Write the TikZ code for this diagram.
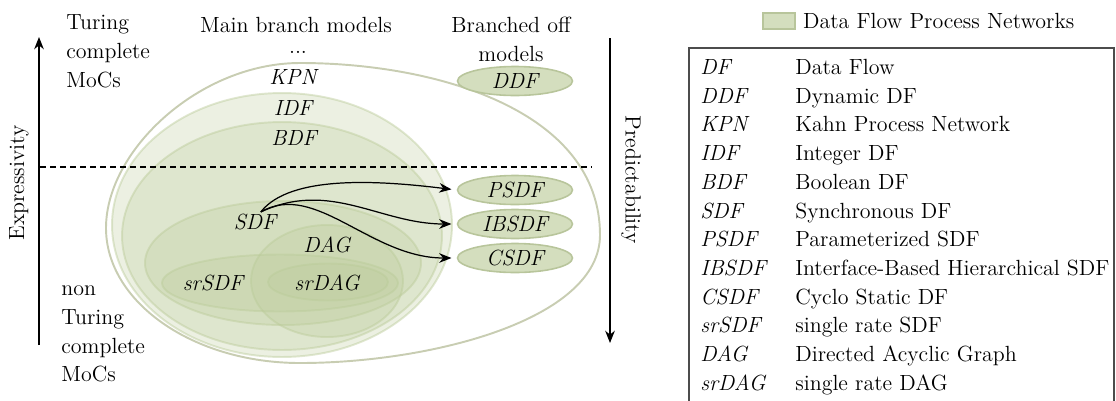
\documentclass[tikz,border=0pt]{standalone}
\usepackage{fontspec}
\usepackage{xcolor}
\usepackage{tikz}
\usetikzlibrary{shapes.geometric, arrows.meta, positioning}

\definecolor{dfgreen}{RGB}{186,202,152}
\definecolor{dffill}{RGB}{212,222,190}
\definecolor{dfedge}{RGB}{184,197,155}
\definecolor{eggline}{RGB}{200,205,178}

\begin{document}
\begin{tikzpicture}[x=0.02cm, y=-0.02cm,
    font=\fontsize{12.5}{16.4}\selectfont,
    region/.style={ellipse, fill=dfgreen, fill opacity=0.28, draw=dfgreen, draw opacity=0.45, line width=1.1pt, inner sep=0pt},
    model/.style={ellipse, fill=dffill, draw=dfedge, line width=0.9pt, minimum width=2.3cm, minimum height=0.58cm, inner sep=0pt, font=\fontsize{12.5}{14}\selectfont\itshape},
    lbl/.style={inner sep=1pt, font=\fontsize{12.5}{14}\selectfont\itshape},
    txt/.style={align=left, inner sep=0pt},
    arrow/.style={-{Stealth[length=7pt, width=5.5pt]}, line width=0.7pt},
    flow/.style={-{Stealth[length=7pt, width=5.5pt]}, line width=0.7pt, shorten >=3pt},
    abbr/.style={anchor=base west, inner sep=0pt, font=\fontsize{12.5}{14}\selectfont\itshape},
    desc/.style={anchor=base west, inner sep=0pt}
]
    \useasboundingbox (0,0) rectangle (1116,400);

    % outer border of the data flow family
    \draw[eggline, line width=1.1pt] (106,228) .. controls (106,150) and (200,63) .. (300,63)
        .. controls (435,63) and (600,110) .. (600,235)
        .. controls (600,320) and (430,363) .. (300,363)
        .. controls (193,363) and (106,302) .. (106,228) -- cycle;

    % main branch models, nested sets
    \node[region, minimum width=6.8cm, minimum height=5.28cm] (idfset) at (282,225) {};
    \node[region, minimum width=6.4cm, minimum height=4.56cm] (bdfset) at (282,236) {};
    \node[region, minimum width=5.52cm, minimum height=2.48cm] (sdfset) at (283,263) {};
    \node[region, minimum width=3.04cm, minimum height=2.24cm] (dagset) at (327,281) {};
    \node[region, minimum width=4.72cm, minimum height=1.14cm] (srsdfset) at (280,283) {};
    \node[region, minimum width=2.4cm, minimum height=0.74cm] (srdagset) at (328,282) {};

    \node[lbl] (kpn) at (293,77) {KPN};
    \node[lbl] (idf) at (293,108) {IDF};
    \node[lbl] (bdf) at (294,138) {BDF};
    \node[lbl] (sdf) at (255,222) {SDF};
    \node[lbl] (dag) at (327,245) {DAG};
    \node[lbl] (srsdf) at (213,283) {srSDF};
    \node[lbl] (srdag) at (327,283) {srDAG};

    % branched off models
    \node[model] (ddf) at (515,81) {DDF};
    \node[model] (psdf) at (515,190) {PSDF};
    \node[model] (ibsdf) at (515,224) {IBSDF};
    \node[model] (csdf) at (515,258) {CSDF};

    \draw[flow] (sdf.60) to[out=52, in=173, out looseness=0.62] (psdf.west);
    \draw[flow] (sdf.60) to[out=25, in=180] (ibsdf.west);
    \draw[flow] (sdf.60) to[out=30, in=180, out looseness=0.8, in looseness=1.1] (csdf.west);

    % axes
    \coordinate (ex-bot) at (39,345);
    \coordinate (ex-top) at (39,37);
    \draw[arrow] (ex-bot) -- (ex-top);
    \node[rotate=90] (expr) at (19,183) {Expressivity};

    \coordinate (pr-top) at (610,38);
    \coordinate (pr-bot) at (610,343);
    \draw[arrow] (pr-top) -- (pr-bot);
    \node[rotate=-90] (pred) at (631,180) {Predictability};

    \coordinate (cut-l) at (40,167);
    \coordinate (cut-r) at (592,167);
    \draw[dash pattern=on 3.4pt off 2.3pt, line width=0.6pt] (cut-l) -- (cut-r);

    % headings
    \node[txt, anchor=west] (tc) at (66,51) {Turing\\complete\\MoCs};
    \node[txt, anchor=west] (ntc) at (61,334) {non\\Turing\\complete\\MoCs};
    \node[inner sep=1pt] (main) at (296,25) {Main branch models};
    \node[inner sep=1pt] (dots) at (298,52) {...};
    \node[align=center] (branch) at (511,39) {Branched off\\models};

    % legend
    \node[draw=dfedge, fill=dffill, line width=0.9pt, minimum width=0.64cm, minimum height=0.32cm, inner sep=0pt] (key) at (779,21) {};
    \node[right=4pt of key, inner sep=0pt] (keytext) {Data Flow Process Networks};

    \draw[black!70, line width=0.6pt] (689,48) rectangle (1114,410);
    \foreach \ab/\de [count=\i from 0] in {DF/Data Flow, DDF/Dynamic DF, KPN/Kahn Process Network,
        IDF/Integer DF, BDF/Boolean DF, SDF/Synchronous DF, PSDF/Parameterized SDF,
        IBSDF/Interface-Based Hierarchical SDF, CSDF/Cyclo Static DF, srSDF/single rate SDF,
        DAG/Directed Acyclic Graph, srDAG/single rate DAG} {
        \node[abbr] (ab\i) at (700,{74.5+28.7*\i}) {\ab};
        \node[desc] (de\i) at (795,{74.5+28.7*\i}) {\de};
    }
\end{tikzpicture}
\end{document}
